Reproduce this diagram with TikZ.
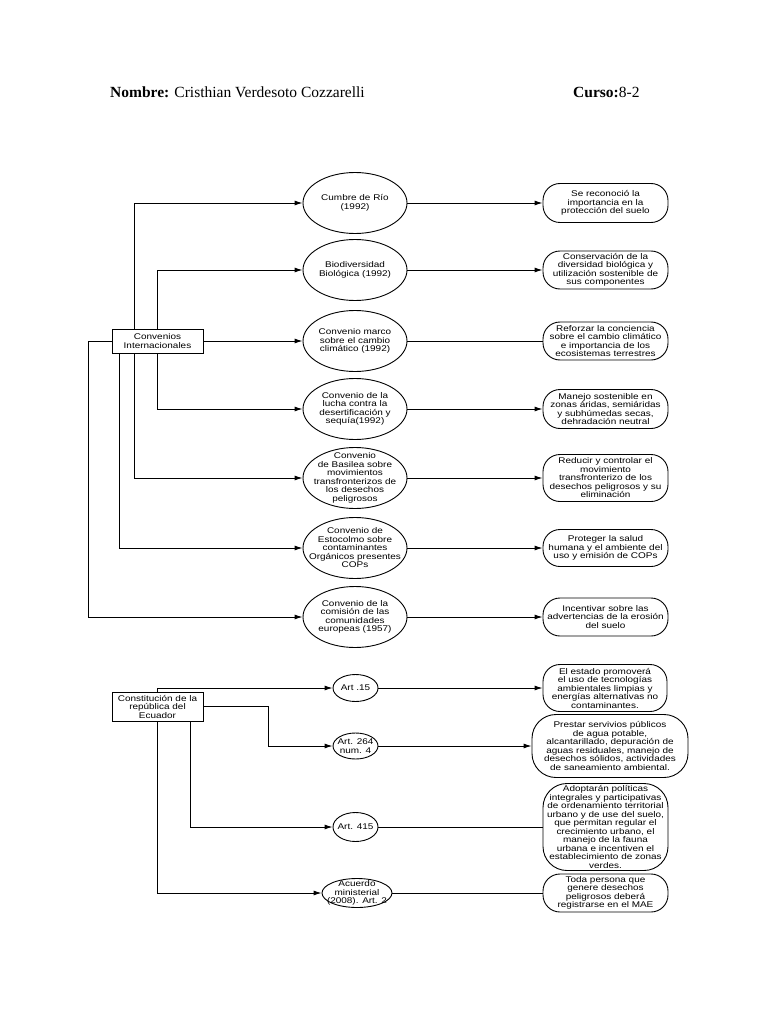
\documentclass[tikz,border=0pt]{standalone}
\usepackage{fontspec}
\setmainfont{Liberation Serif}
\newfontfamily\dfont[FakeStretch=1.2]{Liberation Sans}
\usetikzlibrary{shapes.geometric,arrows.meta}
\begin{document}
\begin{tikzpicture}[x=1pt,y=-1pt,
 ln/.style={line width=0.9pt},
 arr/.style={ln,-{Latex[length=8pt,width=5pt]}},
 ell/.style={ellipse,draw,line width=0.9pt,inner sep=0},
 rbox/.style={rectangle,draw,line width=0.9pt,rounded corners=17pt,inner sep=0},
 sbox/.style={rectangle,draw,line width=0.9pt,inner sep=0},
 txt/.style={align=center,inner sep=0,font=\dfont\fontsize{8.3}{8.5}\selectfont},
 hdr/.style={anchor=base west,inner sep=0,font=\fontsize{15.5}{18}\selectfont},
]
\useasboundingbox[fill=white] (0,0) rectangle (768,1024);

% header
\node[hdr] (nom) at (110,98) {\textbf{Nombre:} Cristhian Verdesoto Cozzarelli};
\node[hdr] (cur) at (573,98) {\textbf{Curso:}8-2};

% ---------- Convenios ----------
\node[sbox,minimum width=91pt,minimum height=24pt] (conv) at (157.5,341) {};
\node[txt] (convt) at (conv) {Convenios\\Internacionales};

\foreach \n/\y in {1/203,2/270,3/341,4/409,5/478,6/548,7/617}{
  \node[ell,minimum width=104pt,minimum height=61pt] (e\n) at (355,\y) {};
}
\node[txt] (e1t) at (e1) {Cumbre de Río\\(1992)};
\node[txt] (e2t) at (e2) {Biodiversidad\\Biológica (1992)};
\node[txt] (e3t) at (e3) {Convenio marco\\sobre el cambio\\climático (1992)};
\node[txt] (e4t) at (e4) {Convenio de la\\lucha contra la\\desertificación y\\sequía(1992)};
\node[txt] (e5t) at (e5) {Convenio\\de Basilea sobre\\movimientos\\transfronterizos de\\los desechos\\peligrosos};
\node[txt] (e6t) at (e6) {Convenio de\\Estocolmo sobre\\contaminantes\\Orgánicos presentes\\COPs};
\node[txt] (e7t) at (e7) {Convenio de la\\comisión de las\\comunidades\\europeas (1957)};

\node[rbox,minimum width=125pt,minimum height=39pt] (b1) at (605.5,203) {};
\node[rbox,minimum width=125pt,minimum height=38pt] (b2) at (605.5,270) {};
\node[rbox,minimum width=125pt,minimum height=38pt] (b3) at (605.5,341) {};
\node[rbox,minimum width=125pt,minimum height=39pt] (b4) at (605.5,409) {};
\node[rbox,minimum width=125pt,minimum height=47pt] (b5) at (605.5,478) {};
\node[rbox,minimum width=125pt,minimum height=37pt] (b6) at (605.5,548) {};
\node[rbox,minimum width=125pt,minimum height=38pt] (b7) at (605.5,617) {};
\node[txt] (b1t) at (b1) {Se reconoció la\\importancia en la\\protección del suelo};
\node[txt] (b2t) at (b2) {Conservación de la\\diversidad biológica y\\utilización sostenible de\\sus componentes};
\node[txt] (b3t) at (b3) {Reforzar la conciencia\\sobre el cambio climático\\e importancia de los\\ecosistemas terrestres};
\node[txt] (b4t) at (b4) {Manejo sostenible en\\zonas áridas, semiáridas\\y subhúmedas secas,\\dehradación neutral};
\node[txt] (b5t) at (b5) {Reducir y controlar el\\movimiento\\transfronterizo de los\\desechos peligrosos y su\\eliminación};
\node[txt] (b6t) at (b6) {Proteger la salud\\humana y el ambiente del\\uso y emisión de COPs};
\node[txt] (b7t) at (b7) {Incentivar sobre las\\advertencias de la erosión\\del suelo};

% vertical line positions
\coordinate (xa) at (134,0);
\coordinate (xb) at (157.5,0);
\coordinate (xc) at (119,0);
\coordinate (o1) at (88,617);

\draw[arr] (conv.north -| xa) |- (e1);
\draw[arr] (conv.north -| xb) |- (e2);
\draw[arr] (conv) -- (e3);
\draw[arr] (conv.south -| xb) |- (e4);
\draw[arr] (conv.south -| xa) |- (e5);
\draw[arr] (conv.south -| xc) |- (e6);
\draw[arr] (conv.west) -| (o1) -- (e7);

\draw[arr] (e1) -- (b1);
\draw[arr] (e2) -- (b2);
\draw[ln] (e3) -- (b3);
\draw[arr] (e4) -- (b4);
\draw[arr] (e5) -- (b5);
\draw[arr] (e6) -- (b6);
\draw[arr] (e7) -- (b7);

% ---------- Constitucion ----------
\node[sbox,minimum width=91pt,minimum height=29pt] (cons) at (157.5,706.5) {};
\node[txt] (const) at (cons) {Constitución de la\\república del\\Ecuador};

\node[ell,minimum width=45pt,minimum height=27pt] (a1) at (355.5,688) {};
\node[ell,minimum width=45pt,minimum height=26pt] (a2) at (355.5,746) {};
\node[ell,minimum width=45pt,minimum height=29pt] (a3) at (355.5,827) {};
\node[ell,minimum width=70pt,minimum height=29pt] (a4) at (357,893) {};
\node[txt] (a1t) at (a1) {Art .15};
\node[txt] (a2t) at (a2) {Art. 264\\num. 4};
\node[txt] (a3t) at (a3) {Art. 415};
\node[txt] (a4t) at (a4) {Acuerdo\\ministerial\\(2008). Art. 2};

\node[rbox,minimum width=124pt,minimum height=47pt] (c1) at (605,688) {};
\node[rbox,minimum width=156pt,minimum height=63pt,rounded corners=24pt] (c2) at (610,746) {};
\node[rbox,minimum width=125pt,minimum height=87pt,rounded corners=24pt] (c3) at (605.5,827) {};
\node[rbox,minimum width=125pt,minimum height=38pt] (c4) at (605.5,893) {};
\node[txt] (c1t) at (c1) {El estado promoverá\\el uso de tecnologías\\ambientales limpias y\\energías alternativas no\\contaminantes.};
\node[txt] (c2t) at (c2) {Prestar servivios públicos\\de agua potable,\\alcantarillado, depuración de\\aguas residuales, manejo de\\desechos sólidos, actividades\\de saneamiento ambiental.};
\node[txt] (c3t) at (c3) {Adoptarán políticas\\integrales y participativas\\de ordenamiento territorial\\urbano y de use del suelo,\\que permitan regular el\\crecimiento urbano, el\\manejo de la fauna\\urbana e incentiven el\\establecimiento de zonas\\verdes.};
\node[txt] (c4t) at (c4) {Toda persona que\\genere desechos\\peligrosos deberá\\registrarse en el MAE};

\coordinate (k2) at (268,746);
\coordinate (xd) at (190,0);

\draw[arr] (cons.north) |- (a1);
\draw[arr] (cons.east) -| (k2) -- (a2);
\draw[arr] (cons.south -| xd) |- (a3);
\draw[arr] (cons.south) |- (a4);

\draw[arr] (a1) -- (c1);
\draw[arr] (a2) -- (c2);
\draw[ln] (a3) -- (c3);
\draw[ln] (a4) -- (c4);
\end{tikzpicture}
\end{document}
